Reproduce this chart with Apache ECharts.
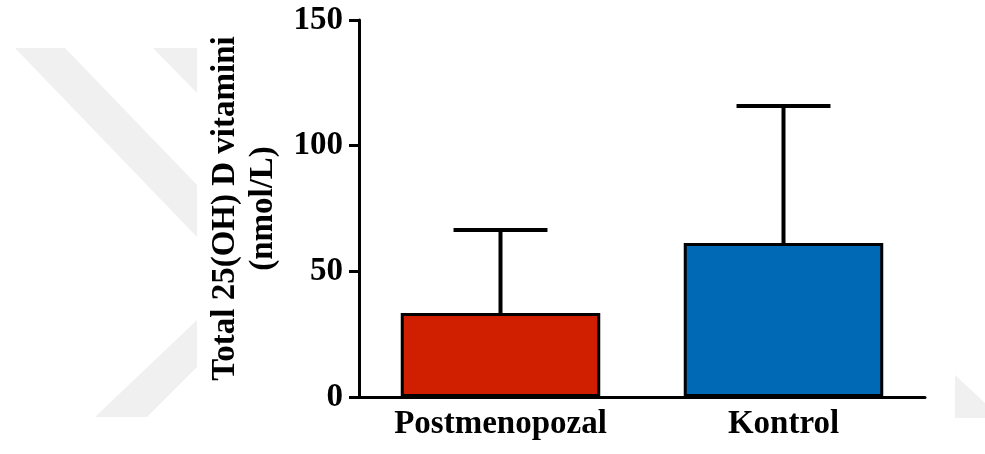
<!DOCTYPE html>
<html>
<head>
<meta charset="utf-8">
<script src="https://cdn.jsdelivr.net/npm/echarts@6/dist/echarts.min.js"></script>
<style>
  html, body { margin: 0; padding: 0; background: #fff; }
  #chartmain { width: 985px; height: 454px; }
</style>
</head>
<body>
<div id="chartmain"></div>
<script>
"use strict";
// data
var categories = ['Postmenopozal', 'Kontrol'];
var means = [33.4, 61.3];
var upperErr = [66.4, 115.8];
var barColors = ['#d01f00', '#0069b6'];
var yTicks = [0, 50, 100, 150];

var FONT = '"Liberation Serif", "Times New Roman", serif';

// faint watermark in the background (decoration, not data)
var wm = '#f0f0f0';
var watermark = [
    [[15, 48], [65, 48], [197, 185], [197, 237]],
    [[153, 48], [197, 48], [197, 93]],
    [[95, 417], [197, 320], [197, 367], [147, 417]],
    [[955, 375], [985, 403], [985, 418], [955, 418]]
].map(function (pts) {
    return { type: 'polygon', silent: true, z: -10, shape: { points: pts }, style: { fill: wm } };
});

var chart = echarts.init(document.getElementById('chartmain'));
var option = {
    animation: false,
    backgroundColor: '#fff',
    graphic: watermark,
    grid: { left: 359, right: 60, top: 20, bottom: 57, containLabel: false },
    xAxis: {
        type: 'category',
        data: categories,
        axisLine: { lineStyle: { color: '#000', width: 3 } },
        axisTick: { alignWithLabel: true, length: 10, lineStyle: { color: '#000', width: 3 } },
        axisLabel: { color: '#000', fontFamily: FONT, fontWeight: 'bold', fontSize: 33, margin: 11 }
    },
    yAxis: {
        type: 'value',
        min: yTicks[0],
        max: yTicks[yTicks.length - 1],
        interval: yTicks[1] - yTicks[0],
        name: 'Total 25(OH) D vitamini\n(nmol/L)',
        nameLocation: 'middle',
        nameGap: 76,
        nameTextStyle: { color: '#000', fontFamily: FONT, fontWeight: 'bold', fontSize: 33, lineHeight: 38 },
        splitLine: { show: false },
        axisLine: { show: true, lineStyle: { color: '#000', width: 3 } },
        axisTick: { show: true, length: 10, lineStyle: { color: '#000', width: 3 } },
        axisLabel: { color: '#000', fontFamily: FONT, fontWeight: 'bold', fontSize: 33, margin: 16 }
    },
    series: [
        {
            type: 'custom',
            z: 1,
            data: categories.map(function (c, i) { return [i, means[i], upperErr[i]]; }),
            renderItem: function (params, api) {
                var x = api.value(0);
                var lo = api.coord([x, api.value(1)]);
                var hi = api.coord([x, api.value(2)]);
                var half = api.size([1, 0])[0] * 0.166;
                var st = { stroke: '#000', lineWidth: 4, fill: null };
                return {
                    type: 'group',
                    children: [
                        { type: 'line', shape: { x1: lo[0], y1: lo[1], x2: hi[0], y2: hi[1] }, style: st },
                        { type: 'line', shape: { x1: hi[0] - half, y1: hi[1], x2: hi[0] + half, y2: hi[1] }, style: st }
                    ]
                };
            }
        },
        {
            type: 'bar',
            z: 2,
            barWidth: '70.5%',
            data: means.map(function (v, i) {
                return { value: v, itemStyle: { color: barColors[i] } };
            }),
            itemStyle: { borderColor: '#000', borderWidth: 3 }
        }
    ]
};
chart.setOption(option);
</script>
</body>
</html>
